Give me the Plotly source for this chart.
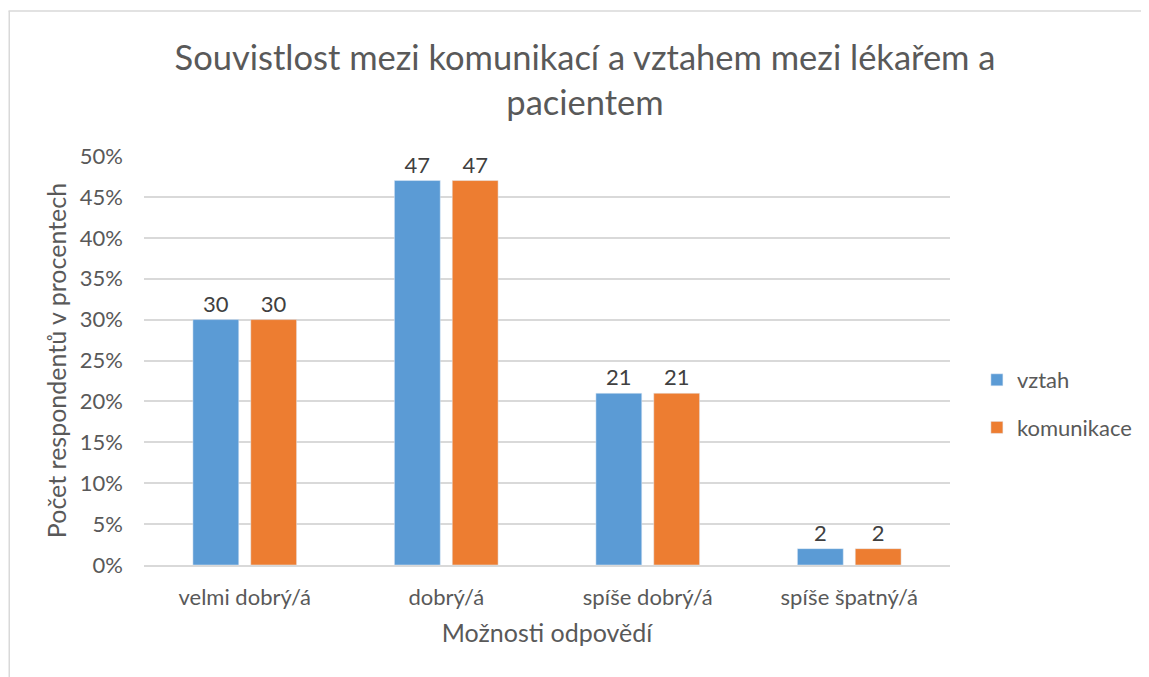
import plotly.graph_objects as go

categories = ["velmi dobrý/á", "dobrý/á", "spíše dobrý/á", "spíše špatný/á"]
vztah = [30, 47, 21, 2]
komunikace = [30, 47, 21, 2]

text_color = "#595959"
font_name = "Lato, Open Sans, sans-serif"

# page has an 8px body margin; the figure starts at (8, 8) in the window
W, H = 1141, 669
L, R, T, B = 136, 196, 148, 112
pw, ph = W - L - R, H - T - B

trace1 = go.Bar(x=categories, y=vztah, name="vztah",
                marker=dict(color="#5B9BD5"),
                text=[str(v) for v in vztah], textposition="outside",
                textfont=dict(size=22, color="#404040"),
                legendgroup="a", cliponaxis=False)
trace2 = go.Bar(x=categories, y=komunikace, name="komunikace",
                marker=dict(color="#ED7D31"),
                text=[str(v) for v in komunikace], textposition="outside",
                textfont=dict(size=22, color="#404040"),
                legendgroup="b", cliponaxis=False)

layout = dict(
    width=W, height=H,
    paper_bgcolor="white", plot_bgcolor="white",
    font=dict(family=font_name, color=text_color, size=22),
    margin=dict(l=L, r=R, t=T, b=B),
    title=dict(text="Souvistlost mezi komunikací a vztahem mezi lékařem a<br>pacientem",
               x=577 / W, xanchor="center", y=1 - 62 / H, yanchor="middle",
               font=dict(size=34.5, color=text_color)),
    barmode="group", bargap=0.426, bargroupgap=0.207,
    xaxis=dict(title=dict(text="Možnosti odpovědí", font=dict(size=25), standoff=15),
               showgrid=False, showline=True, linecolor="#D9D9D9", linewidth=1.5,
               ticks="", tickfont=dict(size=22), ticklabelstandoff=12),
    yaxis=dict(title=dict(text="Počet respondentů v procentech", font=dict(size=25), standoff=6),
               range=[0, 50], dtick=5, ticksuffix="%",
               showgrid=True, gridcolor="#D9D9D9", gridwidth=1.5,
               zeroline=False, ticks="", tickfont=dict(size=22), ticklabelstandoff=20),
    legend=dict(x=(972 - L) / pw, y=(H - B - 396) / ph, yanchor="middle", xanchor="left",
                traceorder="grouped", tracegroupgap=16,
                font=dict(size=22, color=text_color)),
    showlegend=True,
    shapes=[
        dict(type="line", xref="paper", yref="paper",
             x0=(0 - L) / pw, x1=(W + 20 - L) / pw,
             y0=(H - B - 3) / ph, y1=(H - B - 3) / ph,
             line=dict(color="#D9D9D9", width=1.5)),
        dict(type="line", xref="paper", yref="paper",
             x0=(0.75 - L) / pw, x1=(0.75 - L) / pw,
             y0=(H - B - 3) / ph, y1=-(B + 20) / ph,
             line=dict(color="#D9D9D9", width=1.5)),
    ],
)

fig = go.Figure(data=[trace1, trace2], layout=layout)
fig.write_html("out.html")
